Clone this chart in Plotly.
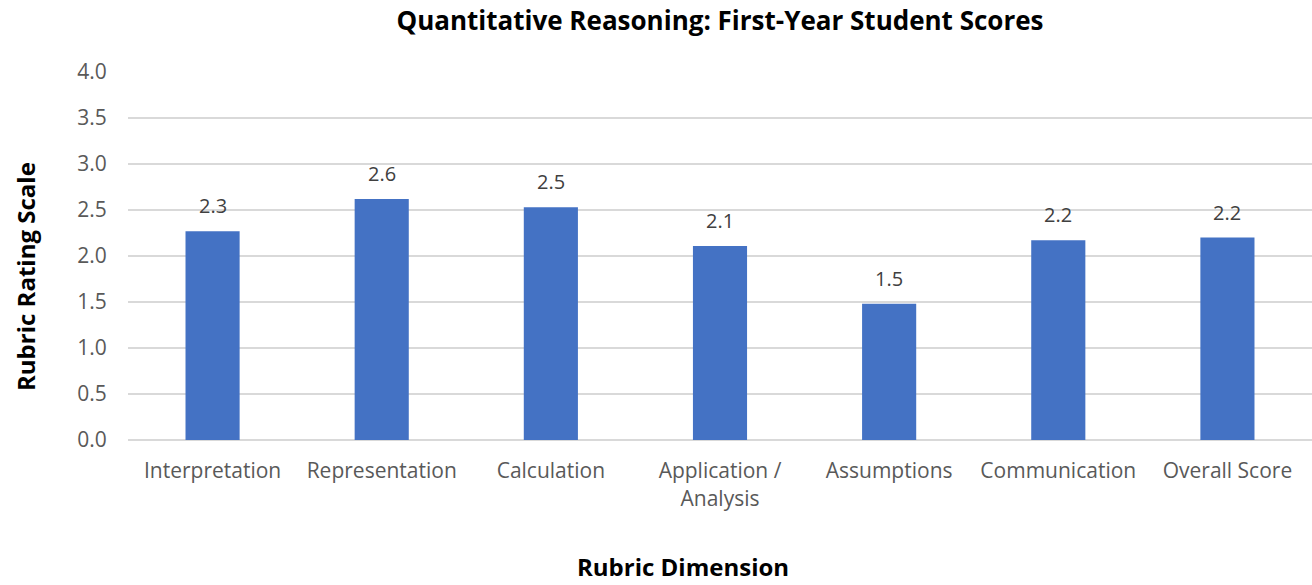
import plotly.graph_objects as go

categories = ["Interpretation", "Representation", "Calculation", "Application /<br>Analysis",
              "Assumptions", "Communication", "Overall Score"]
scores = [2.27, 2.62, 2.53, 2.11, 1.48, 2.17, 2.20]
y_ticks = [0.0, 0.5, 1.0, 1.5, 2.0, 2.5, 3.0, 3.5, 4.0]

FONT = "Open Sans"
W, H = 1312, 585
ML, MR, MT, MB = 128, 0, 72, 145
PW, PH = W - ML - MR, H - MT - MB

fig = go.Figure(go.Bar(
    x=categories, y=scores,
    marker=dict(color="#4472C4", line=dict(width=0)),
    hoverinfo="x+y",
))

for c, v in zip(categories, scores):
    fig.add_annotation(x=c, y=v, text=f"{v:.1f}", showarrow=False,
                       yanchor="bottom", yshift=10,
                       font=dict(family=FONT, size=20, color="#404040"))

# axis titles placed like the reference (centered on the chart area, not the plot area)
fig.add_annotation(text="<b>Rubric Dimension</b>", xref="paper", yref="paper",
                   x=(683 - ML) / PW, y=(MT + PH - 566) / PH, xanchor="center", yanchor="middle",
                   showarrow=False, font=dict(family=FONT, size=24, color="black"))
fig.add_annotation(text="<b>Rubric Rating Scale</b>", xref="paper", yref="paper",
                   x=(25 - ML) / PW, y=(MT + PH - 277) / PH, xanchor="center", yanchor="middle",
                   textangle=-90,
                   showarrow=False, font=dict(family=FONT, size=24, color="black"))

fig.update_layout(
    width=W, height=H,
    margin=dict(l=ML, r=MR, t=MT, b=MB),
    paper_bgcolor="white", plot_bgcolor="white",
    bargap=0.68,
    showlegend=False,
    title=dict(text="<b>Quantitative Reasoning: First-Year Student Scores</b>",
               x=0.5, xanchor="center", xref="paper", y=1 - 21 / H, yanchor="middle",
               font=dict(family=FONT, size=26, color="black")),
    font=dict(family=FONT, color="#595959"),
)
fig.update_xaxes(
    tickfont=dict(family=FONT, size=21, color="#595959"),
    showgrid=False, showline=False, ticks="outside", ticklen=12, tickcolor="rgba(0,0,0,0)",
    automargin=False,
)
fig.update_yaxes(
    range=[0, 4.0], tickvals=y_ticks, ticktext=[f"{v:.1f}" for v in y_ticks],
    tickfont=dict(family=FONT, size=21, color="#595959"),
    showgrid=True, gridcolor="#d9d9d9", gridwidth=1.5,
    zeroline=True, zerolinecolor="#d9d9d9", zerolinewidth=1.5,
    ticks="outside", ticklen=16, tickcolor="rgba(0,0,0,0)", showline=False,
    automargin=False,
)

fig.write_html("out.html", config={"displayModeBar": False},
               post_script="document.body.style.margin='0';document.body.style.overflow='hidden';")
